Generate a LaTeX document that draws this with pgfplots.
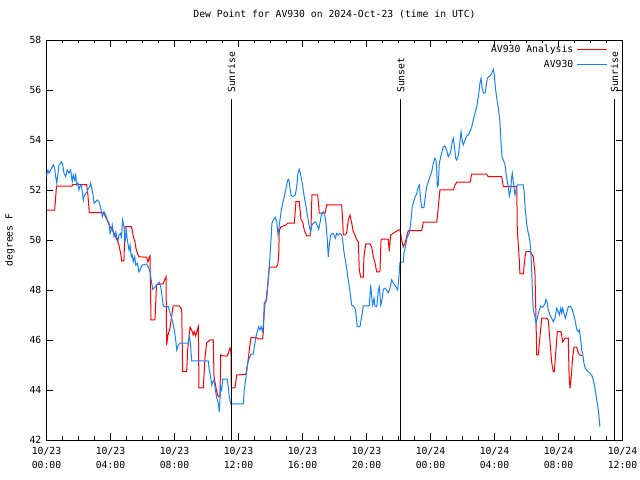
\documentclass[border=0pt]{standalone}
\usepackage{fontspec}
\setmainfont{DejaVu Sans Mono}
\usepackage{pgfplots}
\pgfplotsset{compat=1.18}
\usetikzlibrary{calc}
\definecolor{anared}{RGB}{255,0,0}
\definecolor{obsblue}{RGB}{20,130,255}
\begin{document}
\begin{tikzpicture}
\begin{axis}[
  scale only axis, width=576bp, height=400bp,
  xmin=0, xmax=36, ymin=42, ymax=58,
  /pgf/number format/assume math mode=true,
  font=\fontsize{9.8}{15}\selectfont,
  xtick={0,4,...,36},
  xticklabels={{10/23\\00:00},{10/23\\04:00},{10/23\\08:00},{10/23\\12:00},{10/23\\16:00},{10/23\\20:00},{10/24\\00:00},{10/24\\04:00},{10/24\\08:00},{10/24\\12:00}},
  xticklabel style={align=center, font=\fontsize{9.8}{14.5}\selectfont, inner sep=0pt, yshift=-7bp},
  minor x tick num=3,
  ytick={42,44,...,58},
  yticklabel style={font=\fontsize{9.8}{15}\selectfont, inner sep=0pt, xshift=-5bp},
  tick align=inside, xtick pos=both, ytick pos=both,
  major tick length=7bp, minor tick length=3.5bp,
  every tick/.style={black, line width=0.7bp},
  axis line style={line width=0.9bp},
  title={Dew Point for AV930 on 2024-Oct-23 (time in UTC)},
  title style={at={(axis description cs:0.5,1)}, anchor=center, yshift=20bp, inner sep=0pt, font=\fontsize{9.8}{15}\selectfont},
  ylabel={degrees F},
  every axis y label/.style={at={(axis description cs:0,0.5)}, xshift=-36.5bp, anchor=center, rotate=90, font=\fontsize{9.8}{15}\selectfont},
  legend plot pos=right,
  legend cell align=right,
  legend image code/.code={\draw[#1] (0bp,0bp) -- (30bp,0bp);},
  legend style={draw=none, fill=none, at={(rel axis cs:1,1)}, anchor=north east, xshift=-12bp, yshift=-2bp,
    font=\fontsize{9.8}{15}\selectfont, row sep=4bp, column sep=3bp,
    nodes={inner sep=0pt, text height=8bp, text depth=3bp}},
]
\coordinate (SW) at (rel axis cs:0,0);
\coordinate (NE) at (rel axis cs:1,1);
\addplot[anared, line width=1bp] coordinates {
(0,51.19) (0.51,51.19) (0.625,52.15) (1.59,52.15) (1.625,52.21) (2.51,52.21) (2.59,51.8) (2.675,51.09)
(3.47,51.09) (3.59,51.07) (3.78,50.8) (3.97,50.53) (4.22,50.28) (4.41,50.0) (4.53,49.8) (4.59,49.6)
(4.675,49.33) (4.7,49.16) (4.84,49.16) (4.91,50.53) (5.3,50.53) (5.36,50.4) (5.425,50.13) (5.53,49.93)
(5.59,49.67) (5.675,49.47) (5.78,49.33) (6.26,49.31) (6.34,49.12) (6.41,49.28) (6.47,49.36) (6.53,46.8)
(6.78,46.8) (6.875,48.2) (7.09,48.24) (7.28,48.24) (7.47,48.53) (7.51,45.8) (7.59,46.2) (7.72,46.48)
(7.91,47.36) (8.3,47.36) (8.45,47.24) (8.51,44.73) (8.76,44.73) (8.825,45.6) (8.97,46.52) (9.075,46.4)
(9.175,46.2) (9.24,46.33) (9.325,46.16) (9.39,46.33) (9.49,46.53) (9.53,44.08) (9.8,44.08) (9.91,45.33)
(10.01,45.88) (10.22,46.0) (10.425,46.0) (10.47,44.52) (10.64,43.93) (10.74,43.73) (10.84,43.73) (10.89,45.4)
(11.01,45.36) (11.3,45.36) (11.47,45.68) (11.53,45.52) (11.55,44.08) (11.78,44.08) (11.89,44.6) (12.47,44.63)
(12.59,45.13) (12.69,45.68) (12.78,46.09) (13.14,46.09) (13.22,46.04) (13.51,46.04) (13.56,46.4) (13.61,47.48)
(13.72,47.56) (13.825,48.2) (13.925,48.91) (14.34,48.91) (14.45,49.0) (14.51,49.33) (14.55,50.4) (14.66,50.53)
(14.97,50.6) (15.075,50.67) (15.49,50.67) (15.59,51.53) (15.8,51.53) (15.91,50.8) (16.01,50.73) (16.11,50.4)
(16.26,50.16) (16.47,50.16) (16.53,50.48) (16.59,51.8) (16.95,51.8) (17.05,51.07) (17.41,51.07) (17.51,51.4)
(18.45,51.4) (18.51,50.8) (18.55,50.2) (18.66,50.2) (18.76,50.27) (18.86,50.8) (18.97,51.0) (19.075,50.68)
(19.175,50.33) (19.28,50.2) (19.39,50.0) (19.49,49.93) (19.55,48.8) (19.64,48.51) (19.8,48.51) (19.84,49.33)
(19.95,49.84) (20.22,49.84) (20.325,49.73) (20.425,49.33) (20.53,49.08) (20.64,48.72) (20.84,48.72) (20.91,50.03)
(21.36,50.03) (21.425,49.56) (21.51,50.2) (21.675,50.27) (21.99,50.4) (22.09,50.4) (22.2,50.0) (22.3,49.73)
(22.41,49.87) (22.51,50.13) (22.61,50.37) (23.45,50.37) (23.55,50.71) (24.39,50.71) (24.49,51.33) (24.59,52.0)
(25.425,52.0) (25.53,52.2) (25.64,52.31) (26.47,52.31) (26.575,52.63) (27.51,52.63) (27.61,52.53) (28.45,52.53)
(28.55,52.13) (29.39,52.13) (29.425,50.4) (29.55,49.2) (29.59,48.64) (29.8,48.64) (29.91,49.33) (29.97,49.53)
(30.26,49.53) (30.425,49.33) (30.53,48.68) (30.59,46.92) (30.64,45.4) (30.74,45.4) (30.84,46.13) (30.95,46.87)
(31.26,46.87) (31.36,46.8) (31.47,45.93) (31.575,45.09) (31.675,44.73) (31.74,44.73) (31.84,45.6) (31.925,46.33)
(32.16,46.33) (32.2,46.2) (32.26,45.93) (32.41,46.07) (32.61,46.07) (32.66,44.6) (32.72,44.07) (32.78,44.4)
(32.89,45.33) (32.97,45.71) (33.14,45.71) (33.24,45.47) (33.34,45.4) (33.51,45.36)
};
\addlegendentry{AV930 Analysis}
\addplot[obsblue, line width=1bp] coordinates {
(0,52.53) (0.05,52.73) (0.09,52.8) (0.16,52.67) (0.26,52.8) (0.36,52.93) (0.425,53.0) (0.51,52.87)
(0.575,52.53) (0.64,52.27) (0.72,52.67) (0.78,53.0) (0.89,53.07) (0.925,53.13) (0.99,53.07) (1.05,52.87)
(1.09,52.67) (1.2,52.53) (1.3,52.8) (1.41,52.67) (1.51,52.8) (1.61,52.33) (1.675,52.6) (1.76,52.4)
(1.825,52.6) (1.89,52.2) (1.97,52.27) (2.03,52.0) (2.09,52.13) (2.175,52.2) (2.24,51.93) (2.3,51.6)
(2.34,51.73) (2.45,51.87) (2.55,51.93) (2.61,52.07) (2.7,52.13) (2.76,52.27) (2.825,52.07) (2.91,51.8)
(2.97,51.47) (3.075,51.53) (3.175,51.6) (3.28,51.53) (3.39,51.27) (3.49,50.93) (3.59,51.13) (3.7,51.0)
(3.8,50.8) (3.91,50.67) (3.97,50.27) (4.05,50.4) (4.11,50.6) (4.22,50.13) (4.325,50.33) (4.39,50.13)
(4.47,49.97) (4.53,50.2) (4.64,50.27) (4.675,50.07) (4.76,50.8) (4.84,50.53) (4.91,49.93) (4.99,50.4)
(5.05,50.0) (5.16,49.6) (5.22,49.8) (5.3,49.33) (5.36,49.4) (5.425,49.13) (5.51,49.33) (5.575,49.0)
(5.675,49.07) (5.78,48.73) (5.89,48.87) (5.99,49.0) (6.09,49.0) (6.16,49.03) (6.26,49.03) (6.36,48.93)
(6.47,48.73) (6.575,48.27) (6.64,48.03) (6.72,48.07) (6.89,48.2) (6.99,48.27) (7.05,48.31) (7.14,48.13)
(7.2,47.87) (7.3,47.33) (7.61,47.33) (7.675,47.2) (7.76,47.0) (7.825,46.87) (7.925,46.6) (7.99,46.4)
(8.075,46.0) (8.14,45.6) (8.24,45.8) (8.34,45.87) (8.86,45.87) (8.925,46.13) (8.97,46.0) (9.01,45.73)
(9.075,45.16) (10.11,45.16) (10.175,44.8) (10.22,44.67) (10.325,44.2) (10.39,44.33) (10.47,44.4) (10.53,44.13)
(10.59,43.87) (10.675,43.6) (10.74,43.47) (10.8,43.13) (10.89,44.13) (10.95,44.0) (11.01,44.43) (11.3,44.43)
(11.36,44.13) (11.425,43.73) (11.51,43.44) (12.3,43.44) (12.36,44.0) (12.47,44.53) (12.575,45.07) (12.675,45.27)
(12.78,45.43) (12.925,45.43) (12.99,45.73) (13.09,46.13) (13.2,46.4) (13.26,46.53) (13.34,46.4) (13.41,46.53)
(13.51,46.33) (13.575,46.8) (13.66,47.47) (13.76,47.6) (13.825,48.13) (13.925,48.93) (13.99,49.6) (14.03,50.0)
(14.09,50.67) (14.175,50.8) (14.3,50.91) (14.39,50.73) (14.47,50.2) (14.55,50.6) (14.66,51.13) (14.76,51.47)
(14.86,51.73) (14.97,52.07) (15.075,52.4) (15.14,52.43) (15.22,52.07) (15.28,51.8) (15.39,51.73) (15.55,51.8)
(15.64,52.13) (15.72,52.67) (15.8,52.83) (15.89,52.6) (15.97,52.33) (16.05,52.0) (16.11,51.73) (16.22,51.33)
(16.325,50.93) (16.425,50.53) (16.51,50.33) (16.59,50.6) (16.675,50.67) (16.8,50.73) (16.91,50.6) (17.01,50.43)
(17.09,50.67) (17.2,51.07) (17.3,51.13) (17.41,50.93) (17.47,50.67) (17.55,50.0) (17.61,49.33) (17.675,49.8)
(17.76,50.2) (17.89,50.27) (17.97,50.2) (18.05,50.07) (18.14,50.27) (18.24,50.2) (18.34,50.27) (18.45,50.2)
(18.51,50.0) (18.59,49.53) (18.675,49.2) (18.76,48.87) (18.86,48.4) (18.97,47.93) (19.075,47.4) (19.175,47.36)
(19.28,47.27) (19.34,47.07) (19.425,46.53) (19.59,46.53) (19.7,46.93) (19.8,47.36) (20.175,47.36) (20.26,48.2)
(20.325,47.73) (20.39,47.4) (20.47,47.67) (20.53,47.36) (20.64,47.33) (20.74,48.0) (20.8,48.13) (20.89,47.4)
(20.97,47.6) (21.05,48.03) (21.16,48.07) (21.26,48.0) (21.36,47.89) (21.47,48.07) (21.575,48.4) (21.675,48.27)
(21.78,48.2) (21.89,48.07) (21.95,48.0) (22.03,48.53) (22.09,49.11) (22.3,49.12) (22.34,49.47) (22.47,49.87)
(22.55,50.13) (22.675,50.27) (22.76,50.67) (22.86,51.33) (22.97,51.6) (23.05,51.73) (23.14,51.87) (23.24,52.13)
(23.3,52.2) (23.39,51.6) (23.45,51.29) (23.59,51.29) (23.675,51.73) (23.76,52.13) (23.86,52.33) (23.97,52.53)
(24.075,52.73) (24.175,53.07) (24.28,53.27) (24.34,53.2) (24.39,52.8) (24.425,52.13) (24.49,52.2) (24.55,53.07)
(24.64,53.33) (24.72,53.53) (24.8,53.73) (24.91,53.76) (25.01,53.6) (25.11,53.33) (25.22,53.47) (25.28,53.6)
(25.36,53.93) (25.425,54.07) (25.49,53.76) (25.575,53.27) (25.64,53.2) (25.74,53.4) (25.84,53.93) (25.91,54.33)
(25.99,53.93) (26.05,53.8) (26.16,54.0) (26.26,54.16) (26.36,54.2) (26.47,54.33) (26.575,54.53) (26.675,54.8)
(26.78,55.07) (26.89,55.33) (26.99,55.73) (27.09,56.27) (27.16,56.47) (27.22,56.13) (27.3,55.87) (27.41,55.87)
(27.47,56.13) (27.55,56.47) (27.64,56.53) (27.72,56.56) (27.825,56.67) (27.925,56.83) (27.99,56.6) (28.05,56.13)
(28.14,55.67) (28.24,55.27) (28.34,54.73) (28.41,53.87) (28.47,53.33) (28.55,53.2) (28.66,53.0) (28.76,52.48)
(28.86,52.13) (28.925,51.76) (29.01,52.0) (29.075,52.53) (29.11,52.67) (29.22,52.13) (29.28,51.8) (29.34,52.0)
(29.425,52.2) (29.8,52.2) (29.86,51.87) (29.925,51.2) (30.01,50.67) (30.075,50.4) (30.16,50.13) (30.22,49.93)
(30.28,49.4) (30.34,48.53) (30.39,47.6) (30.425,47.2) (30.53,46.93) (30.59,46.67) (30.675,46.87) (30.74,47.07)
(30.8,47.2) (30.89,47.36) (30.97,47.31) (31.05,47.33) (31.16,47.47) (31.22,47.63) (31.3,47.47) (31.36,47.2)
(31.47,47.0) (31.575,46.87) (31.675,46.73) (31.78,46.87) (31.89,47.27) (31.99,47.13) (32.05,47.0) (32.14,47.27)
(32.2,47.07) (32.26,47.27) (32.34,47.07) (32.425,46.87) (32.51,47.07) (32.61,47.33) (32.76,47.33) (32.825,47.27)
(32.925,47.07) (33.03,46.8) (33.14,46.43) (33.24,46.33) (33.3,46.4) (33.39,46.0) (33.45,45.6) (33.51,45.47)
(33.59,45.07) (33.675,44.87) (33.76,44.8) (33.86,44.73) (33.97,44.67) (34.075,44.6) (34.175,44.4) (34.28,44.07)
(34.39,43.6) (34.49,43.2) (34.59,42.53)
};
\addlegendentry{AV930}
\addplot[black, line width=0.9bp, forget plot] coordinates {(11.56,42) (11.56,55.64)};
\addplot[black, line width=0.9bp, forget plot] coordinates {(22.14,42) (22.14,55.64)};
\addplot[black, line width=0.9bp, forget plot] coordinates {(35.5,42) (35.5,55.64)};
\node[rotate=90, anchor=west, inner sep=0pt, font=\fontsize{9.8}{15}\selectfont] at (axis cs:11.56,55.88) {Sunrise};
\node[rotate=90, anchor=west, inner sep=0pt, font=\fontsize{9.8}{15}\selectfont] at (axis cs:22.14,55.88) {Sunset};
\node[rotate=90, anchor=west, inner sep=0pt, font=\fontsize{9.8}{15}\selectfont] at (axis cs:35.5,55.88) {Sunrise};
\end{axis}
\pgfresetboundingbox
\path ($(SW)+(-46.5bp,-40bp)$) rectangle ($(NE)+(17.5bp,40bp)$);
\end{tikzpicture}
\end{document}
